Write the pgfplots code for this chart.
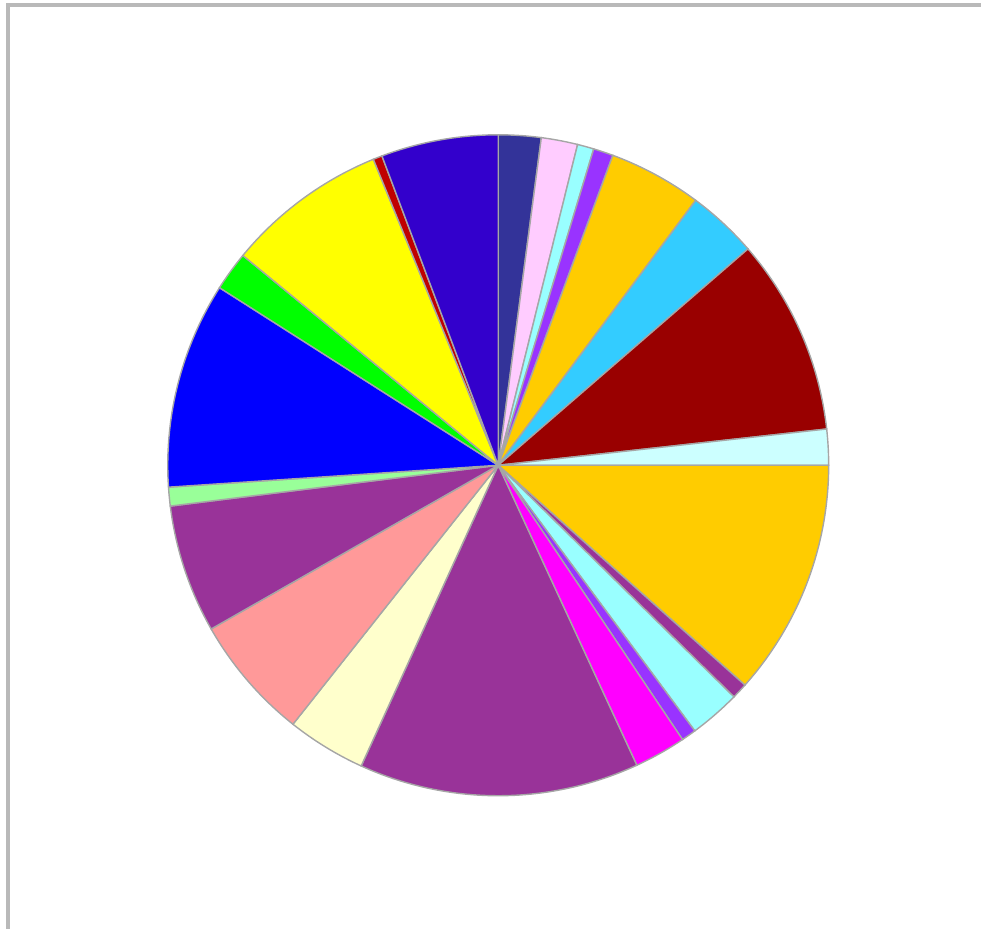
\documentclass[border=0pt]{standalone}
\usepackage{pgfplots}
\usepackage{pgfplotstable}
\pgfplotsset{compat=1.18}
\definecolor{c1}{HTML}{333399}
\definecolor{c2}{HTML}{FFCCFF}
\definecolor{c3}{HTML}{99FFFF}
\definecolor{c4}{HTML}{9933FF}
\definecolor{c5}{HTML}{FFCC00}
\definecolor{c6}{HTML}{33CCFF}
\definecolor{c7}{HTML}{990000}
\definecolor{c8}{HTML}{CCFFFF}
\definecolor{c9}{HTML}{FFCC00}
\definecolor{c10}{HTML}{993399}
\definecolor{c11}{HTML}{99FFFF}
\definecolor{c12}{HTML}{9933FF}
\definecolor{c13}{HTML}{FF00FF}
\definecolor{c14}{HTML}{993399}
\definecolor{c15}{HTML}{FFFFCC}
\definecolor{c16}{HTML}{FF9999}
\definecolor{c17}{HTML}{993399}
\definecolor{c18}{HTML}{99FF99}
\definecolor{c19}{HTML}{0000FF}
\definecolor{c20}{HTML}{00FF00}
\definecolor{c21}{HTML}{FFFF00}
\definecolor{c22}{HTML}{C00000}
\definecolor{c23}{HTML}{3300CC}
% slice sizes in degrees, clockwise from 12 o'clock
\pgfplotstableread{
value col
7.5  c1
6.4  c2
2.9  c3
3.5  c4
16.4 c5
12.4 c6
34.6 c7
6.3  c8
41.7 c9
2.8  c10
9.0  c11
2.6  c12
9.1  c13
49.3 c14
13.9 c15
21.9 c16
22.6 c17
3.3  c18
36.3 c19
6.9  c20
28.4 c21
1.6  c22
20.6 c23
}\slices
\begin{document}
\begin{tikzpicture}
\begin{axis}[
  scale only axis,
  width=9.83cm, height=9.30cm,
  xmin=-1.5076, xmax=1.4622,
  ymin=-1.4018, ymax=1.4079,
  hide axis,
  clip=false,
]
\path (axis cs:-1.5076,-1.4018) rectangle (axis cs:1.4622,1.4079);
\draw[gray!55, line width=0.9pt] (axis cs:-1.4834,-1.4018) -- (axis cs:-1.4834,1.3927) -- (axis cs:1.4622,1.3927);
\pgfplotstablegetrowsof{\slices}
\pgfmathtruncatemacro\N{\pgfplotsretval-1}
\def\cum{0}
\pgfplotsforeachungrouped \i in {0,...,\N}{
  \pgfplotstablegetelem{\i}{value}\of\slices \let\v\pgfplotsretval
  \pgfplotstablegetelem{\i}{col}\of\slices \let\c\pgfplotsretval
  \pgfmathsetmacro\a{90-\cum}
  \pgfmathsetmacro\b{90-\cum-\v}
  \edef\temp{\noexpand\addplot[fill=\c, draw=gray!70, line width=0.4pt, domain=\b:\a, samples=60] ({cos(x)},{sin(x)}) -- (axis cs:0,0) -- cycle;}
  \temp
  \pgfmathsetmacro\cum{\cum+\v}
  \global\let\cum\cum
}
\end{axis}
\end{tikzpicture}
\end{document}
